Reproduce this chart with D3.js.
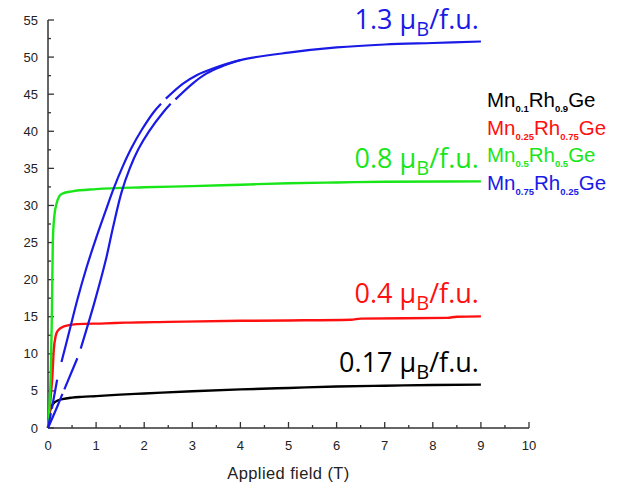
<!DOCTYPE html>
<html>
<head>
<meta charset="utf-8">
<script src="https://cdn.jsdelivr.net/npm/d3@7"></script>
<style>
  html, body { margin: 0; padding: 0; background: #fff; }
  svg { display: block; }
</style>
</head>
<body>
<svg id="chart" width="617" height="488"></svg>
<script>
// Magnetisation curves M(H) of Mn(x)Rh(1-x)Ge at low temperature.
// Field in tesla, moment in emu/g. null marks a break in the recorded trace.
const mn010 = [[0,0],[0.02,1.4],[0.05,2.5],[0.1,3.2],[0.2,3.7],[0.3,3.9],[0.5,4.1],[0.7,4.2],[1,4.3],[1.5,4.5],[2,4.65],[3,4.95],[4,5.2],[5,5.4],[6,5.6],[7,5.7],[8,5.8],[9,5.85]];
const mn025 = [[0,0],[0.03,2],[0.05,3.8],[0.09,6.9],[0.12,10.5],[0.16,12.4],[0.2,13.1],[0.33,13.7],[0.6,14.0],[1.2,14.1],[1.6,14.2],[2.5,14.3],[4,14.45],[5,14.5],[6.3,14.6],[6.5,14.75],[8.3,14.85],[8.5,15.0],[9,15.05]];
const mn050 = [[0,0],[0.03,3],[0.06,8],[0.08,15],[0.1,25],[0.13,28.5],[0.18,30.3],[0.24,31.3],[0.3,31.6],[0.5,31.9],[1,32.2],[2,32.45],[3,32.6],[4,32.8],[5,33.0],[6,33.1],[7,33.2],[9,33.25]];
const mn075Up = [[0,0],[0.06,2.0],null,[0.08,2.6],[0.19,6.5],null,[0.28,8.9],[0.45,13.2],[0.61,17.3],[0.8,21.6],[1.0,25.6],[1.2,29.3],[1.36,32.2],[1.55,35.2],[1.74,37.8],[1.95,40.2],[2.2,42.6],[2.35,43.7],null,[2.45,44.4],[2.8,46.4],[3.1,47.6],[3.4,48.4],[4,49.6],[5,50.6],[6,51.3],[7,51.7],[8,51.9],[9,52.1]];
const mn075Down = [[0,0],[0.2,3.0],[0.3,4.6],null,[0.34,5.2],[0.61,9.4],null,[0.68,10.7],[0.96,16.8],[1.2,22.6],[1.35,27.0],[1.53,31.8],[1.7,35.0],[1.88,37.6],[2.1,40.0],[2.4,42.6],[2.55,43.7],null,[2.65,44.3],[3.0,46.4],[3.3,47.8],[3.6,48.7],[4,49.6]];

const fieldTicks = d3.range(0, 11, 1);
const fieldMinor = d3.range(0.5, 10, 1);
const momentTicks = d3.range(0, 56, 5);
const momentMinor = d3.range(2.5, 55, 5);

const seriesColors = ["#000000", "#ff1010", "#19e619", "#1a1ae6"];
const mnFrac = ["0.1", "0.25", "0.5", "0.75"];
const rhFrac = ["0.9", "0.75", "0.5", "0.25"];
const satMoment = ["0.17", "0.4", "0.8", "1.3"];
const satEnd = [mn010, mn025, mn050, mn075Up];

const svg = d3.select("#chart");
const x = d3.scaleLinear().domain([0, 10]).range([48, 529]);
const y = d3.scaleLinear().domain([0, 55]).range([428, 20]);

// axes with inward ticks
const axisColor = "#333";
const gx = svg.append("g").attr("transform", `translate(0,${y(0)})`);
gx.append("line").attr("x1", x(0)).attr("x2", x(10)).attr("stroke", axisColor).attr("stroke-width", 1.5);
gx.selectAll("line.maj").data(fieldTicks).join("line").attr("class", "maj")
  .attr("x1", d => x(d)).attr("x2", d => x(d)).attr("y1", 0).attr("y2", -6)
  .attr("stroke", axisColor).attr("stroke-width", 1.3);
gx.selectAll("line.min").data(fieldMinor).join("line").attr("class", "min")
  .attr("x1", d => x(d)).attr("x2", d => x(d)).attr("y1", 0).attr("y2", -3)
  .attr("stroke", axisColor).attr("stroke-width", 1.3);
gx.selectAll("text").data(fieldTicks).join("text")
  .attr("x", d => x(d)).attr("y", 22).attr("text-anchor", "middle")
  .attr("font-family", "Liberation Sans, Arial, sans-serif").attr("font-size", 13).attr("fill", "#222")
  .text(d => d);

const gy = svg.append("g").attr("transform", `translate(${x(0)},0)`);
gy.append("line").attr("y1", y(0)).attr("y2", y(55)).attr("stroke", axisColor).attr("stroke-width", 1.5);
gy.selectAll("line.maj").data(momentTicks).join("line").attr("class", "maj")
  .attr("y1", d => y(d)).attr("y2", d => y(d)).attr("x1", 0).attr("x2", 6)
  .attr("stroke", axisColor).attr("stroke-width", 1.3);
gy.selectAll("line.min").data(momentMinor).join("line").attr("class", "min")
  .attr("y1", d => y(d)).attr("y2", d => y(d)).attr("x1", 0).attr("x2", 3)
  .attr("stroke", axisColor).attr("stroke-width", 1.3);
gy.selectAll("text").data(momentTicks).join("text")
  .attr("x", -10).attr("y", d => y(d)).attr("dy", "0.35em").attr("text-anchor", "end")
  .attr("font-family", "Liberation Sans, Arial, sans-serif").attr("font-size", 13).attr("fill", "#222")
  .text(d => d);

svg.append("text").attr("x", (x(0) + x(10)) / 2).attr("y", 479).attr("text-anchor", "middle")
  .attr("font-family", "Liberation Sans, Arial, sans-serif").attr("font-size", 16.5).attr("fill", "#222")
  .attr("letter-spacing", 0.4)
  .text("Applied field (T)");

// curves
const line = d3.line().defined(d => d != null).x(d => x(d[0])).y(d => y(d[1])).curve(d3.curveMonotoneX);
const lineBranch = d3.line().defined(d => d != null).x(d => x(d[0])).y(d => y(d[1])).curve(d3.curveCatmullRom.alpha(0.5));
[mn010, mn025, mn050].forEach((s, i) => {
  svg.append("path").attr("d", line(s)).attr("fill", "none")
    .attr("stroke", seriesColors[i]).attr("stroke-width", 2.4).attr("stroke-linejoin", "round");
});
[mn075Up, mn075Down].forEach(s => {
  svg.append("path").attr("d", lineBranch(s)).attr("fill", "none")
    .attr("stroke", seriesColors[3]).attr("stroke-width", 2.2).attr("stroke-linejoin", "round");
});

// saturation moment labels above the curve ends
satMoment.forEach((m, i) => {
  const end = satEnd[i][satEnd[i].length - 1];
  const t = svg.append("text").attr("x", x(9) - 2).attr("y", y(end[1]) - 13)
    .attr("text-anchor", "end").attr("font-family", "Open Sans, DejaVu Sans, sans-serif")
    .attr("font-size", 27).attr("fill", seriesColors[i]);
  t.append("tspan").text(m + " \u03bc");
  t.append("tspan").attr("font-size", 20).attr("dy", 7).text("B");
  t.append("tspan").attr("dy", -7).text("/f.u.");
});

// legend
const legendY = [107, 134.5, 162, 189.5];
mnFrac.forEach((mn, i) => {
  const t = svg.append("text").attr("x", 487).attr("y", legendY[i])
    .attr("font-family", "Liberation Sans, Arial, sans-serif").attr("font-size", 20.5)
    .attr("fill", seriesColors[i]);
  t.append("tspan").text("Mn");
  t.append("tspan").attr("font-size", 9.5).attr("font-weight", "bold").attr("dy", 5).text(mn);
  t.append("tspan").attr("dy", -5).text("Rh");
  t.append("tspan").attr("font-size", 9.5).attr("font-weight", "bold").attr("dy", 5).text(rhFrac[i]);
  t.append("tspan").attr("dy", -5).text("Ge");
});
</script>
</body>
</html>
